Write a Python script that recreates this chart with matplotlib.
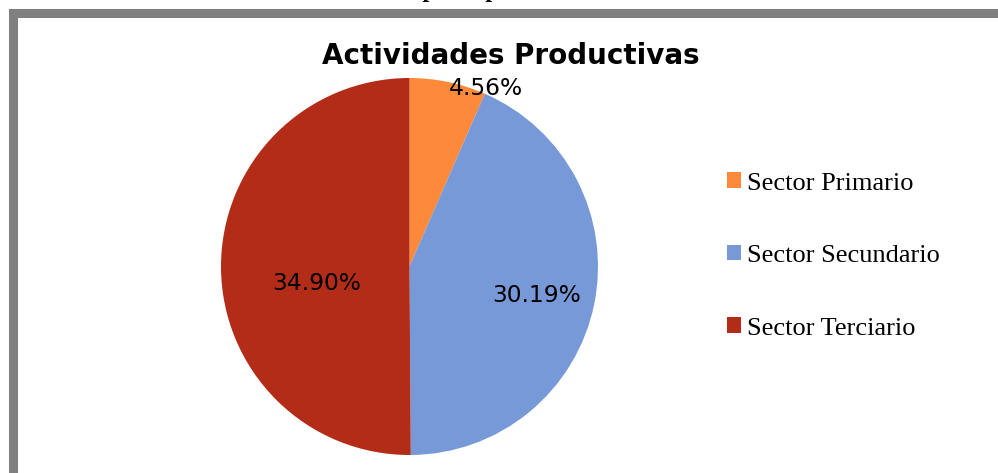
import numpy as np
import matplotlib.pyplot as plt
from matplotlib.patches import Rectangle, Patch

sectores = ['Sector Primario', 'Sector Secundario', 'Sector Terciario']
porcentajes = [4.56, 30.19, 34.90]
colores = ['#FD8A3A', '#7799D8', '#B22C17']

# posicion de las etiquetas (radio relativo y giro respecto al centro de la porcion)
lab_r = [1.03, 0.69, 0.50]
lab_giro = [-11.5, -1.3, 10.2]

W, H = 998, 473
fig = plt.figure(figsize=(W/100, H/100), dpi=100)

# marco gris del grafico (sale por la derecha y por abajo)
fig.patches.append(Rectangle((12.5/W, -0.2), 1.2, (H-13)/H + 0.2, transform=fig.transFigure,
                             fill=False, edgecolor='#808080', linewidth=6.5))

# texto del documento cortado arriba (solo se ven los rabos de las p)
fig.text(293/W, 1 + 2.5/H, 'Actividades principales', family='Liberation Serif',
         fontweight='bold', fontsize=17.7, ha='left', va='baseline')

ax = fig.add_axes([221/W, (H-455)/H, 377/W, 377/H])
wedges, _ = ax.pie(porcentajes, colors=colores, startangle=90, counterclock=False,
                   radius=1, wedgeprops=dict(linewidth=0))
ax.set_xlim(-1, 1)
ax.set_ylim(-1, 1)

for w, p, r, g in zip(wedges, porcentajes, lab_r, lab_giro):
    ang = np.deg2rad((w.theta1 + w.theta2)/2 + g)
    ax.text(r*np.cos(ang), r*np.sin(ang), f'{p:.2f}%', ha='center', va='center',
            fontsize=16.8, family='DejaVu Sans')

fig.text(511/W, 1 - 64/H, 'Actividades Productivas', ha='center', va='baseline',
         fontsize=20, fontweight='bold', family='DejaVu Sans')

handles = [Patch(facecolor=c, edgecolor='none') for c in colores]
fig.legend(handles, sectores, loc='center left', bbox_to_anchor=(727/W, 1 - 256/H),
           frameon=False, borderpad=0, borderaxespad=0,
           prop={'family': 'Liberation Serif', 'size': 19},
           handlelength=0.53, handleheight=0.53, handletextpad=0.23, labelspacing=1.91)

fig.savefig('out.png', dpi=100)
